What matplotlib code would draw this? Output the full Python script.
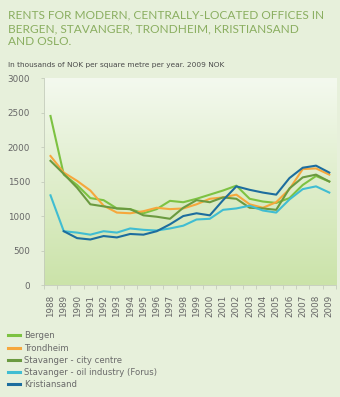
import numpy as np
import matplotlib
matplotlib.use('Agg')
import matplotlib.pyplot as plt
from matplotlib.colors import LinearSegmentedColormap

years = list(range(1988, 2010))

bergen = [2450, 1600, 1450, 1260, 1230, 1110, 1100, 1040, 1100, 1220, 1200, 1250,
          1310, 1370, 1440, 1250, 1210, 1190, 1260, 1450, 1580, 1500]
trondheim = [1870, 1630, 1510, 1370, 1150, 1050, 1040, 1070, 1120, 1100, 1110, 1170,
             1250, 1270, 1310, 1170, 1120, 1200, 1390, 1680, 1690, 1600]
stavanger_city = [1800, 1610, 1410, 1170, 1140, 1110, 1100, 1010, 990, 960, 1120, 1230,
                  1200, 1270, 1250, 1120, 1110, 1090, 1400, 1560, 1600, 1500]
stavanger_oil = [1300, 780, 760, 730, 780, 760, 820, 800, 790, 820, 860, 950,
                 960, 1090, 1110, 1150, 1080, 1050, 1240, 1390, 1430, 1340]
kristiansand = [np.nan, 780, 680, 660, 710, 690, 740, 730, 780, 880, 1000, 1040,
                1010, 1230, 1430, 1380, 1340, 1310, 1550, 1700, 1730, 1630]

title_lines = ["RENTS FOR MODERN, CENTRALLY-LOCATED OFFICES IN",
               "BERGEN, STAVANGER, TRONDHEIM, KRISTIANSAND",
               "AND OSLO."]

series = [
    ("Bergen", bergen, "#7dc242"),
    ("Trondheim", trondheim, "#f6a73c"),
    ("Stavanger - city centre", stavanger_city, "#6b9a40"),
    ("Stavanger - oil industry (Forus)", stavanger_oil, "#40bdd2"),
    ("Kristiansand", kristiansand, "#1d6d9e"),
]

bg = "#e7f0db"
fig = plt.figure(figsize=(3.4, 3.97), dpi=100, facecolor=bg)
ax = fig.add_axes([0.129, 0.282, 0.859, 0.5215])
ax.set_facecolor(bg)

# gradient inside the plot area
cmap = LinearSegmentedColormap.from_list("bgrad", ["#cbe3a9", "#f4f9ef"])
ax.imshow(np.linspace(0, 1, 256).reshape(-1, 1), cmap=cmap, origin='lower',
          extent=[1987.5, 2009.5, 0, 3000], aspect='auto', zorder=0)

for name, vals, col in series:
    ax.plot(years, vals, color=col, lw=1.5, label=name, zorder=3)

ax.set_xlim(1987.5, 2009.5)
ax.set_ylim(0, 3000)
ax.set_yticks(range(0, 3001, 500))
ax.set_xticks(years)
ax.set_xticklabels([str(y) for y in years], rotation=90)
ax.set_xticks(np.arange(1987.5, 2010, 1), minor=True)

for s in ["top", "right"]:
    ax.spines[s].set_visible(False)
ax.spines["left"].set_color("#c4ccbb")
ax.spines["bottom"].set_color("#c4ccbb")
ax.spines["left"].set_linewidth(0.6)
ax.spines["bottom"].set_linewidth(0.6)
ax.tick_params(axis='y', length=2, width=0.6, color="#c4ccbb", labelsize=6.3,
               labelcolor="#666666", pad=8)
ax.tick_params(axis='x', which='major', length=0, labelsize=6.3,
               labelcolor="#666666", pad=7)
ax.tick_params(axis='x', which='minor', length=3, width=0.6, color="#c4ccbb")

title_col = "#8aae60"
for i, line in enumerate(title_lines):
    fig.text(8 / 340, 1 - (18.7 + 13.3 * i) / 397, line,
             color=title_col, fontsize=8.6, family="Lato",
             va="baseline", ha="left")
fig.text(8 / 340, 1 - 66.5 / 397,
         "In thousands of NOK per square metre per year. 2009 NOK",
         color="#4a4a4a", fontsize=5.3, va="baseline", ha="left")

leg = fig.legend(loc="upper left", bbox_to_anchor=(0.015, 1 - 328 / 397),
                 frameon=False, fontsize=6.1, handlelength=1.3, handletextpad=0.5,
                 labelspacing=0.38, borderaxespad=0)
for t in leg.get_texts():
    t.set_color("#6a6a6a")
for l in leg.get_lines():
    l.set_linewidth(2.2)

fig.savefig("out.png", dpi=100, facecolor=bg)
